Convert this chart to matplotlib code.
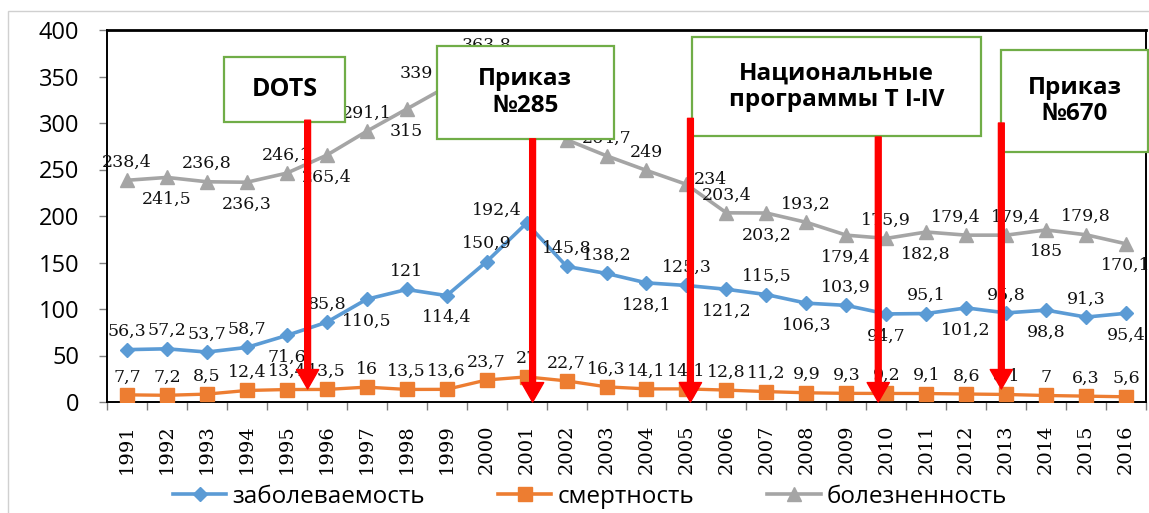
import matplotlib.pyplot as plt
from matplotlib.patches import Rectangle
from matplotlib.lines import Line2D
import numpy as np

years = list(range(1991, 2017))
zabol = [56.3, 57.2, 53.7, 58.7, 71.6, 85.8, 110.5, 121, 114.4, 150.9, 192.4, 145.8, 138.2,
         128.1, 125.3, 121.2, 115.5, 106.3, 103.9, 94.7, 95.1, 101.2, 95.8, 98.8, 91.3, 95.4]
smert = [7.7, 7.2, 8.5, 12.4, 13.4, 13.5, 16, 13.5, 13.6, 23.7, 27, 22.7, 16.3,
         14.1, 14.1, 12.8, 11.2, 9.9, 9.3, 9.2, 9.1, 8.6, 8.1, 7, 6.3, 5.6]
bolezn = [238.4, 241.5, 236.8, 236.3, 246.1, 265.4, 291.1, 315, 339, 363.8, 330.5, 282.1, 264.7,
          249, 234, 203.4, 203.2, 193.2, 179.4, 175.9, 182.8, 179.4, 179.4, 185, 179.8, 170.1]

# where each data label sits: a = above, b = below, l = upper left, r = right,
# L / R = above but nudged left / right
zabol_pos = "aaaababab" + "alaa" + "babababababab"
smert_pos = "a" * 26
bolezn_pos = "ababababl" + "aaaaa" + "r" + "abab" + "abL" + "Rbab"

names = ["заболеваемость", "смертность", "болезненность"]
colors = ["#5B9BD5", "#ED7D31", "#A5A5A5"]

# annotation boxes: text, (x0, x1) in year index, (y0, y1) in values
boxes = [
    ("DOTS", (2.43, 5.45), (301, 371)),
    ("Приказ\n№285", (7.75, 12.18), (283, 383)),
    ("Национальные\nпрограммы Т I-IV", (14.13, 21.38), (286, 392)),
    ("Приказ\n№670", (21.88, 25.55), (269, 378)),
]
# red arrows: x in year index, start value, tip value
arrows = [(4.52, 303, 14), (10.15, 283, 0), (14.1, 305, 0), (18.8, 285, 0), (21.88, 300, 14)]

fig = plt.figure(figsize=(11.49, 5.13), dpi=100)
ax = fig.add_axes([107 / 1149, 1 - 402 / 513, 1039 / 1149, 372 / 513])

x = np.arange(len(years))
ax.plot(x, zabol, color=colors[0], lw=2.6, marker="D", ms=7.5, zorder=3)
ax.plot(x, smert, color=colors[1], lw=2.4, marker="s", ms=10, zorder=3)
ax.plot(x, bolezn, color=colors[2], lw=2.6, marker="^", ms=10, zorder=3)

offs = {"a": (0, 18), "b": (0, -22), "l": (-30, 13), "r": (24, 5),
        "L": (-10, 18), "R": (10, 18)}
for vals, pos in [(zabol, zabol_pos), (smert, smert_pos), (bolezn, bolezn_pos)]:
    for i, (v, p) in enumerate(zip(vals, pos)):
        lab = f"{v:g}".replace(".", ",")
        ax.annotate(lab, (i, v), xytext=offs[p], textcoords="offset pixels",
                    ha="center", va="center", fontsize=12.5, family="DejaVu Serif",
                    color="#111111", zorder=4)

for txt, (x0, x1), (y0, y1) in boxes:
    ax.add_patch(Rectangle((x0, y0), x1 - x0, y1 - y0, facecolor="white",
                           edgecolor="#70AD47", lw=1.6, zorder=6, clip_on=False))
    ax.text((x0 + x1) / 2, (y0 + y1) / 2, txt, ha="center", va="center",
            fontsize=17.5 if txt != "DOTS" else 18, fontweight="bold", family="Open Sans",
            linespacing=1.15, zorder=7, clip_on=False)

for ax_x, y_start, y_tip in arrows:
    ax.annotate("", xy=(ax_x, y_tip), xytext=(ax_x, y_start),
                arrowprops=dict(facecolor="#FF0000", edgecolor="#FF0000", width=4.2,
                                headwidth=16, headlength=14, shrink=0),
                zorder=8, annotation_clip=False)

ax.set_xlim(-0.5, len(years) - 0.5)
ax.set_ylim(0, 400)
ax.set_yticks(range(0, 401, 50))
ax.set_xticks(x)
ax.set_xticklabels(years, rotation=90, family="DejaVu Serif", fontsize=14)
ax.set_xticks(np.arange(-0.5, len(years), 1), minor=True)
ax.tick_params(axis="x", which="major", length=0, pad=16)
ax.tick_params(axis="x", which="minor", length=6, color="#808080", width=1)
ax.tick_params(axis="y", length=6, color="#808080", width=1, pad=14, labelsize=17)
for lab in ax.get_yticklabels():
    lab.set_family("Open Sans")
for s in ax.spines.values():
    s.set_color("black")
    s.set_linewidth(1.4)
ax.spines["top"].set_linewidth(2)

handles = [Line2D([], [], color=colors[0], lw=2.6, marker="D", ms=7.5),
           Line2D([], [], color=colors[1], lw=2.6, marker="s", ms=10),
           Line2D([], [], color=colors[2], lw=2.6, marker="^", ms=10)]
fig.legend(handles, names, loc="center", bbox_to_anchor=(590 / 1149, 16 / 513), ncol=3,
           frameon=False, handlelength=2.2, columnspacing=3.0, handletextpad=0.25,
           prop=dict(family="Open Sans", size=17.5))

fig.add_artist(Rectangle((8 / 1149, -0.1), 1.2, 1 - 11 / 513 + 0.1, transform=fig.transFigure,
                         fill=False, edgecolor="#D0D0D0", lw=1, zorder=-1))

fig.savefig("out.png", dpi=100)
